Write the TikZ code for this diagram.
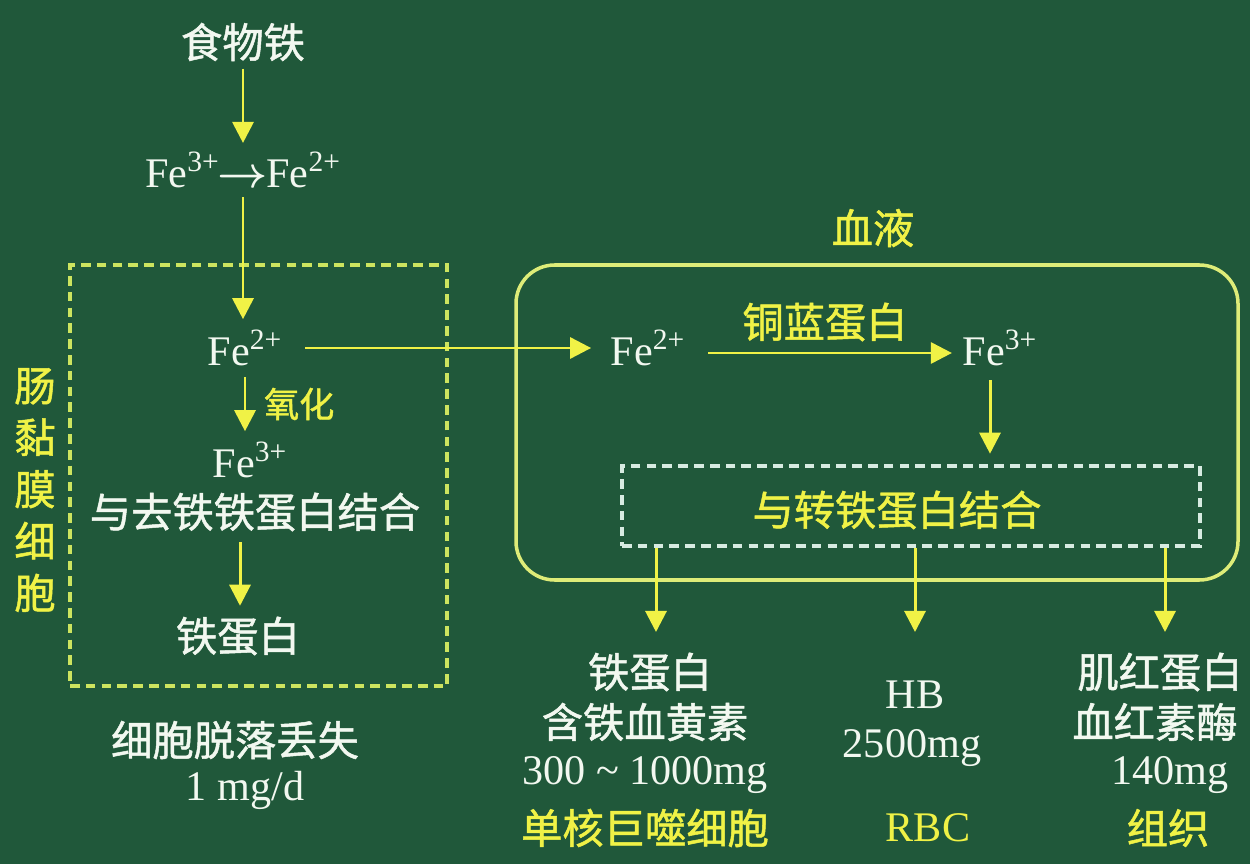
\documentclass[tikz,border=0pt]{standalone}
\usepackage{fontspec}
\setmainfont{Liberation Serif}
\newfontfamily\cjk[FakeBold=1.2]{Noto Sans CJK SC}
\usetikzlibrary{arrows.meta}
\definecolor{bg}{RGB}{32,88,58}
\definecolor{wt}{RGB}{242,248,240}
\definecolor{yl}{RGB}{240,242,70}
\definecolor{ln}{RGB}{222,236,120}
\definecolor{dl}{RGB}{205,228,95}
\definecolor{db}{RGB}{215,235,225}
\begin{document}
\begin{tikzpicture}[x=0.02cm,y=-0.02cm,
 cn/.style={font=\cjk\fontsize{23.5}{29}\selectfont, text=wt, inner sep=0pt},
 cy/.style={cn, text=yl},
 fe/.style={font=\fontsize{24}{29}\selectfont, text=wt, inner sep=0pt},
 fey/.style={fe, text=yl},
 arr/.style={draw=yl, line width=1.7pt, -{Triangle[width=12pt,length=12pt]}},
 dbox/.style={draw=#1, line width=2pt, dash pattern=on 5.5pt off 3.5pt, inner sep=0pt},
]
\fill[bg] (0,0) rectangle (1250,864);
\useasboundingbox (0,0) rectangle (1250,864);

% left column
\node[cn] (food) at (243,42) {食物铁};
\node[fe] (fe32) at (243,170) {Fe\textsuperscript{3+}\kern-1pt{\boldmath$\rightarrow$}\kern-1ptFe\textsuperscript{2+}};
\node[fe] (fe2a) at (245,348) {Fe\textsuperscript{2+}};
\node[fe] (fe3a) at (250,460) {Fe\textsuperscript{3+}};
\node[cn] (bind1) at (255,512) {与去铁铁蛋白结合};
\node[cn] (ferr1) at (238,636) {铁蛋白};
\node[dbox=dl, minimum width=377*0.02cm, minimum height=421*0.02cm] (cell) at (258.5,475.5) {};
\node[cy, align=center, font=\cjk\fontsize{23.5}{29.5}\selectfont] (cellname) at (35,490) {肠\\黏\\膜\\细\\胞};
\node[cn] (shed) at (235,740) {细胞脱落丢失};
\node[fe] (shedv) at (245,790) {1 mg/d};

\draw[arr, shorten <=4pt, shorten >=5pt] (food) -- (fe32);
\draw[arr, shorten <=5pt, shorten >=6pt] (fe32.south) -- (fe32.south |- fe2a.north);
\draw[arr, shorten <=6pt, shorten >=6pt] (fe2a.south) -- (fe2a.south |- fe3a.north)
  node[cy, midway, right=10pt, font=\cjk\fontsize{20}{24}\selectfont] (oxi) {氧化};
\draw[arr, shorten <=6pt, shorten >=6pt] ([xshift=-0.3cm]bind1.south) -- ([xshift=-0.3cm]bind1.south |- ferr1.north);

% blood
\node[cy] (bloodname) at (873,228) {血液};
\node[draw=ln, line width=2pt, rounded corners=22pt, minimum width=722*0.02cm, minimum height=315*0.02cm] (blood) at (877,422.5) {};
\node[fe] (fe2b) at (648,348) {Fe\textsuperscript{2+}};
\node[fe] (fe3b) at (1000,348) {Fe\textsuperscript{3+}};
\node[cy] (ceru) at (825,322) {铜蓝蛋白};
\node[dbox=db, minimum width=578*0.02cm, minimum height=80*0.02cm] (tbox) at (911,506) {};
\node[cy] (bind2) at (897,510) {与转铁蛋白结合};

\draw[arr, shorten <=13pt, shorten >=11pt] (fe2a.east) -- (fe2a.east -| fe2b.west);
\draw[arr, shorten <=13pt, shorten >=6pt] ([yshift=-0.1cm]fe2b.east) -- ([yshift=-0.1cm]fe3b.west);
\draw[arr, shorten <=8pt, shorten >=6pt] ([xshift=-0.2cm]fe3b.south) -- ([xshift=-0.2cm]fe3b.south |- tbox.north);

% outputs
\node[cn] (o1a) at (650,672) {铁蛋白};
\node[cn] (o1b) at (645,722) {含铁血黄素};
\node[fe] (o1c) at (645,775) {300 \textasciitilde\ 1000mg};
\node[cy] (o1d) at (645,828) {单核巨噬细胞};
\node[fe] (o2a) at (915,695) {HB};
\node[fe] (o2b) at (912,748) {2500mg};
\node[fey] (o2d) at (928,828) {RBC};
\node[cn] (o3a) at (1160,672) {肌红蛋白};
\node[cn] (o3b) at (1155,722) {血红素酶};
\node[fe] (o3c) at (1170,775) {140mg};
\node[cy] (o3d) at (1168,828) {组织};

\coordinate (a1) at (656,632);
\coordinate (a2) at (915,632);
\coordinate (a3) at (1165,632);
\draw[arr] (tbox.south -| a1) -- (a1);
\draw[arr] (tbox.south -| a2) -- (a2);
\draw[arr] (tbox.south -| a3) -- (a3);
\end{tikzpicture}
\end{document}
